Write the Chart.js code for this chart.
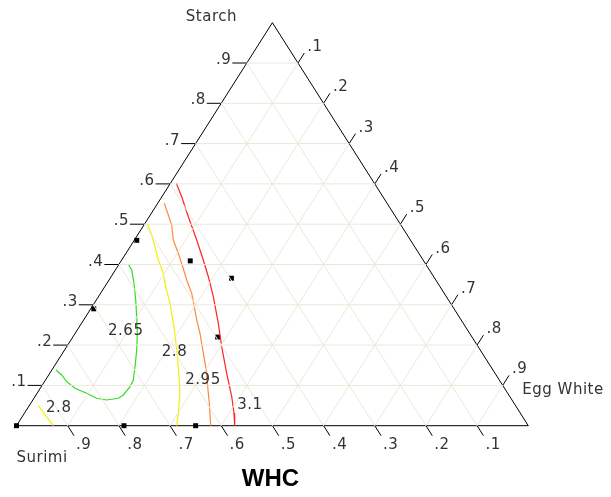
<!DOCTYPE html>
<html>
<head>
<meta charset="utf-8">
<script src="https://cdn.jsdelivr.net/npm/chart.js@4.4.1/dist/chart.umd.min.js"></script>
<style>
  body { margin: 0; background: #fff; }
</style>
</head>
<body>
<canvas id="whc" width="611" height="497"></canvas>
<script>
// ternary data: each point is [starch, egg white], surimi = 1 - starch - egg white
const vertexNames = ['Surimi', 'Starch', 'Egg White'];
const tickValues = [0.1, 0.2, 0.3, 0.4, 0.5, 0.6, 0.7, 0.8, 0.9];
const tickLabels = ['.1', '.2', '.3', '.4', '.5', '.6', '.7', '.8', '.9'];

const designPoints = [
    [0, 0], [0, 0.21], [0, 0.35], [0.46, 0.005], [0.29, 0.006],
    [0.409, 0.135], [0.366, 0.237], [0.22, 0.283]
];

const contourLevels = ['2.65', '2.8', '2.8', '2.95', '3.1'];

const contour265 = [
    [0.4005, 0.0182], [0.3864, 0.0319], [0.3534, 0.0529], [0.3119, 0.077], [0.2705, 0.0996],
    [0.2293, 0.1214], [0.1878, 0.141], [0.1464, 0.1583], [0.1134, 0.1715], [0.0968, 0.1734],
    [0.0762, 0.1706], [0.068, 0.1649], [0.0638, 0.1443], [0.068, 0.1227], [0.0804, 0.097],
    [0.0928, 0.0679], [0.1092, 0.0435], [0.1258, 0.0254], [0.1382, 0.0081]
];
const contour280a = [
    [0.5005, 0.0061], [0.4732, 0.0276], [0.4442, 0.0485], [0.4112, 0.0715], [0.3782, 0.0977],
    [0.345, 0.119], [0.3037, 0.1481], [0.2789, 0.1638], [0.2457, 0.1849], [0.2045, 0.2094],
    [0.163, 0.2335], [0.1216, 0.2567], [0.0804, 0.2793], [0.0308, 0.3007], [0, 0.313]
];
const contour280b = [[0.0496, 0.0178], [0, 0.0719]];
const contour295 = [
    [0.5519, 0.0128], [0.5228, 0.0352], [0.498, 0.0542], [0.4608, 0.076], [0.4278, 0.1022],
    [0.3945, 0.1275], [0.3615, 0.1518], [0.3285, 0.1781], [0.2953, 0.1997], [0.2623, 0.221],
    [0.2293, 0.2439], [0.1797, 0.2752], [0.1464, 0.2965], [0.0968, 0.3252], [0.0556, 0.3489],
    [0, 0.3794]
];
const contour310 = [
    [0.6015, 0.0115], [0.568, 0.0388], [0.5186, 0.0764], [0.4608, 0.1217], [0.4112, 0.1594],
    [0.3697, 0.19], [0.3201, 0.2245], [0.2541, 0.2673], [0.196, 0.3029], [0.13, 0.3457],
    [0.072, 0.3845], [0.0308, 0.4096], [0, 0.4263]
];

// where the contour values are written, [starch, egg white]
const contourLabelAt = [[0.2345, 0.0962], [0.1816, 0.2179], [0.0439, 0.0606], [0.1134, 0.3077], [0.0514, 0.4305]];

function tern(p) {
    return { x: p[1] + p[0] / 2, y: p[0] };
}

function line(points, color, width) {
    return {
        data: points.map(tern),
        showLine: true,
        borderColor: color,
        borderWidth: width || 1,
        pointRadius: 0,
        fill: false,
        tension: 0,
        clip: false
    };
}

let datasets = [];

// grid
const gridColor = '#ebe7d8';
for (let i = 0; i < tickValues.length; i++) {
    const v = tickValues[i];
    datasets.push(line([[v, 0], [v, 1 - v]], gridColor));
    datasets.push(line([[0, v], [1 - v, v]], gridColor));
    datasets.push(line([[0, 1 - v], [1 - v, 0]], gridColor));
}

// contours
datasets.push(line(contour265, '#33dd22', 1.2));
datasets.push(line(contour280a, '#f4f000', 1.2));
datasets.push(line(contour280b, '#f4f000', 1.2));
datasets.push(line(contour295, '#ff8840', 1.2));
datasets.push(line(contour310, '#ff2222', 1.2));

// frame
datasets.push(line([[0, 0], [0, 1], [1, 0], [0, 0]], '#000', 1));

// ticks, offsets in plot units
const tl = 0.0283, dx = 0.0124, dy = 0.0248;
function tick(a, b) {
    return { data: [a, b], showLine: true, borderColor: '#000', borderWidth: 1, pointRadius: 0, clip: false };
}
for (let i = 0; i < tickValues.length; i++) {
    const v = tickValues[i];
    // starch on left side
    datasets.push(tick({ x: v / 2, y: v }, { x: v / 2 - tl, y: v }));
    // egg white on right side
    const r = tern([1 - v, v]);
    datasets.push(tick(r, { x: r.x + dx, y: r.y + dy }));
    // surimi on base
    const b = tern([0, 1 - v]);
    datasets.push(tick(b, { x: b.x + dx, y: b.y - dy }));
}

// design points
datasets.push({
    data: designPoints.map(tern),
    showLine: false,
    pointStyle: 'rect',
    pointRadius: 3.5,
    backgroundColor: '#000',
    borderColor: '#000',
    borderWidth: 0,
    clip: false
});

const labelsPlugin = {
    id: 'ternaryLabels',
    afterDatasetsDraw(chart) {
        const ctx = chart.ctx;
        const sx = chart.scales.x, sy = chart.scales.y;
        const px = (p) => [sx.getPixelForValue(p.x), sy.getPixelForValue(p.y)];
        ctx.save();
        ctx.fillStyle = '#333';
        ctx.font = '15px "DejaVu Sans"';
        ctx.letterSpacing = '0.5px';

        for (let i = 0; i < tickValues.length; i++) {
            const v = tickValues[i];
            // left
            let [x, y] = px({ x: v / 2 - tl, y: v });
            ctx.textAlign = 'right';
            ctx.textBaseline = 'alphabetic';
            ctx.fillText(tickLabels[i], x - 1, y + 1);
            // right
            const r = tern([1 - v, v]);
            [x, y] = px({ x: r.x + dx, y: r.y + dy });
            ctx.textAlign = 'left';
            ctx.fillText(tickLabels[i], x + 3, y - 2);
            // bottom
            const b = tern([0, 1 - v]);
            [x, y] = px({ x: b.x + dx, y: b.y - dy });
            ctx.fillText(tickLabels[i], x + 2, y + 13);
        }

        // contour values
        ctx.textAlign = 'center';
        ctx.textBaseline = 'middle';
        for (let i = 0; i < contourLevels.length; i++) {
            const [x, y] = px(tern(contourLabelAt[i]));
            ctx.fillText(contourLevels[i], x, y);
        }

        // vertex names
        let [x0, y0] = px(tern([0, 0]));
        ctx.textAlign = 'left';
        ctx.fillText(vertexNames[0], x0, y0 + 32);
        let [x1, y1] = px(tern([1, 0]));
        ctx.textAlign = 'center';
        ctx.fillText(vertexNames[1], x1 - 61, y1 - 6);
        let [x2, y2] = px(tern([0, 1]));
        ctx.textAlign = 'left';
        ctx.fillText(vertexNames[2], x2 - 6, y2 - 36);

        // title
        ctx.letterSpacing = '0px';
        ctx.fillStyle = '#000';
        ctx.font = 'bold 24px "Liberation Sans", Arial';
        ctx.textAlign = 'center';
        ctx.fillText('WHC', (x0 + x2) / 2 - 2, y0 + 54);
        ctx.restore();
    }
};

new Chart(document.getElementById('whc').getContext('2d'), {
    type: 'scatter',
    data: { datasets: datasets },
    options: {
        responsive: false,
        animation: false,
        layout: { padding: { left: 16.5, right: 82.7, top: 22.7, bottom: 71.3 } },
        scales: {
            x: { type: 'linear', min: 0, max: 1, display: false },
            y: { type: 'linear', min: 0, max: 1, display: false }
        },
        plugins: {
            legend: { display: false },
            tooltip: { enabled: false }
        }
    },
    plugins: [labelsPlugin]
});
</script>
</body>
</html>
